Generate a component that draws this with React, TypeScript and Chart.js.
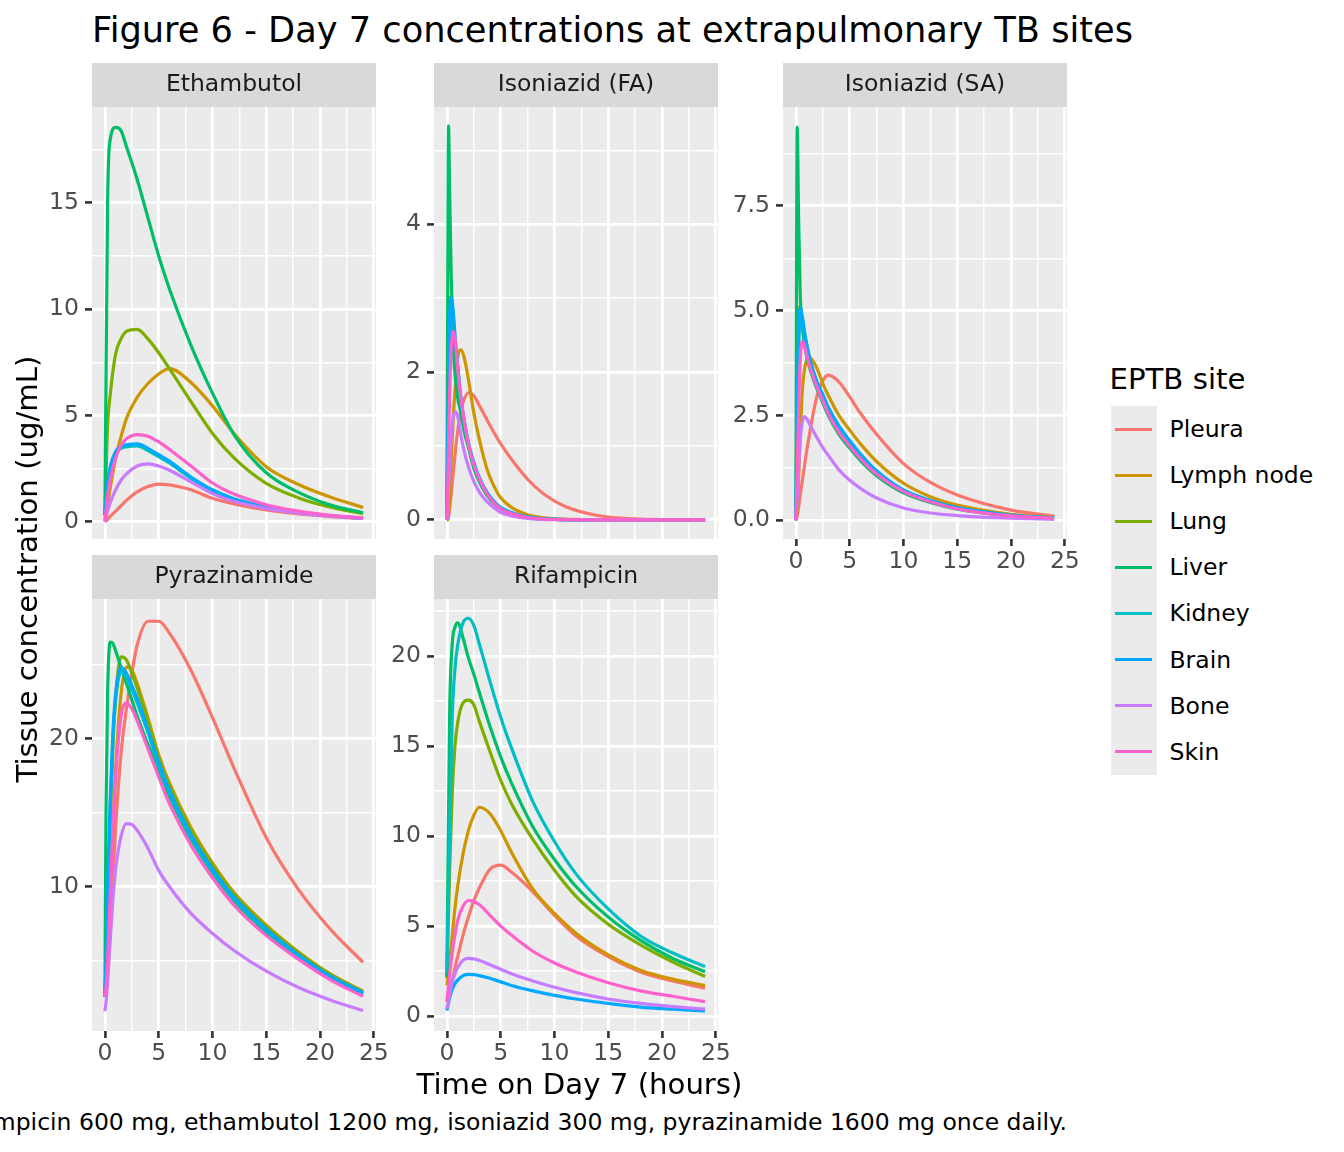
import { useEffect, useRef } from "react"
import { Chart, registerables } from "chart.js"

Chart.register(...registerables)

// sites in legend / drawing order
const sites = ["Pleura", "Lymph node", "Lung", "Liver", "Kidney", "Brain", "Bone", "Skin"]
const siteColors = ["#F8766D", "#CD9600", "#7CAE00", "#00BE67", "#00BFC4", "#00A9FF", "#C77CFF", "#FF61CC"]

const xMajor = [0, 5, 10, 15, 20, 25]
const xMinor = [2.5, 7.5, 12.5, 17.5, 22.5]

// Ethambutol (rows follow `sites`)
const ethTime = [0, 0.25, 0.5, 1, 1.5, 2, 3, 4, 5, 6, 8, 10, 12, 15, 18, 21, 24]
const ethambutol = [
  [0, 0.1, 0.25, 0.5, 0.75, 1.0, 1.4, 1.65, 1.77, 1.73, 1.5, 1.1, 0.84, 0.55, 0.36, 0.24, 0.15],
  [0.1, 0.8, 1.6, 3.0, 4.0, 4.85, 5.85, 6.5, 6.95, 7.2, 6.55, 5.45, 4.15, 2.59, 1.75, 1.15, 0.67],
  [0.3, 4.5, 6.0, 7.9, 8.6, 8.95, 9.05, 8.6, 7.95, 7.2, 5.65, 4.15, 3.0, 1.8, 1.12, 0.68, 0.38],
  [0.3, 15.0, 18.0, 18.55, 18.4, 17.65, 16.1, 14.3, 12.5, 10.95, 8.3, 6.05, 4.1, 2.3, 1.38, 0.78, 0.42],
  [0.3, 1.7, 2.5, 3.2, 3.45, 3.52, 3.56, 3.35, 3.06, 2.76, 2.04, 1.46, 1.05, 0.68, 0.44, 0.27, 0.16],
  [0.3, 1.8, 2.6, 3.3, 3.55, 3.62, 3.66, 3.45, 3.15, 2.85, 2.1, 1.5, 1.08, 0.7, 0.45, 0.28, 0.17],
  [0, 0.5, 0.9, 1.5, 1.95, 2.25, 2.62, 2.72, 2.62, 2.42, 1.87, 1.32, 0.96, 0.62, 0.4, 0.26, 0.16],
  [0, 1.2, 2.0, 3.0, 3.6, 3.9, 4.1, 4.02, 3.75, 3.4, 2.62, 1.82, 1.3, 0.8, 0.5, 0.3, 0.18],
]
const ethYMajor = [0, 5, 10, 15]
const ethYMinor = [2.5, 7.5, 12.5, 17.5]

// Isoniazid, fast acetylators
const faTime = [0, 0.1, 0.15, 0.25, 0.4, 0.6, 0.8, 1, 1.3, 1.6, 2, 2.5, 3, 3.7, 4.5, 5, 6, 7.5, 9, 11, 14, 18, 24]
const isoniazidFA = [
  [0, 0.02, 0.05, 0.15, 0.35, 0.65, 0.95, 1.2, 1.48, 1.63, 1.72, 1.68, 1.55, 1.36, 1.15, 1.03, 0.82, 0.55, 0.35, 0.18, 0.06, 0.01, 0],
  [0, 0, 0.05, 0.25, 0.8, 1.4, 1.85, 2.2, 2.3, 2.2, 1.9, 1.45, 1.1, 0.7, 0.42, 0.3, 0.17, 0.07, 0.028, 0.01, 0.002, 0, 0],
  [0, 1.8, 2.6, 3.0, 3.02, 2.7, 2.3, 2.0, 1.6, 1.3, 1.0, 0.74, 0.55, 0.36, 0.22, 0.16, 0.09, 0.035, 0.013, 0.004, 0, 0, 0],
  [0, 4.0, 5.33, 4.5, 3.3, 2.3, 1.9, 1.65, 1.45, 1.2, 0.98, 0.7, 0.52, 0.34, 0.2, 0.15, 0.08, 0.03, 0.012, 0.004, 0, 0, 0],
  [0, 1.2, 1.85, 2.6, 2.92, 2.72, 2.35, 2.05, 1.62, 1.32, 1.02, 0.76, 0.56, 0.37, 0.22, 0.16, 0.09, 0.035, 0.013, 0.004, 0, 0, 0],
  [0, 1.2, 1.9, 2.7, 3.0, 2.8, 2.4, 2.1, 1.65, 1.35, 1.05, 0.78, 0.58, 0.38, 0.23, 0.17, 0.1, 0.04, 0.015, 0.005, 0, 0, 0],
  [0, 0.2, 0.4, 0.75, 1.15, 1.4, 1.46, 1.4, 1.15, 0.93, 0.72, 0.52, 0.38, 0.25, 0.15, 0.1, 0.055, 0.02, 0.008, 0.002, 0, 0, 0],
  [0, 0.6, 1.0, 1.7, 2.3, 2.55, 2.4, 2.05, 1.65, 1.35, 1.03, 0.75, 0.56, 0.36, 0.21, 0.15, 0.085, 0.033, 0.012, 0.004, 0, 0, 0],
]
const faYMajor = [0, 2, 4]
const faYMinor = [1, 3, 5]

// Isoniazid, slow acetylators
const saTime = [0, 0.12, 0.25, 0.4, 0.6, 0.8, 1, 1.2, 1.5, 2, 2.5, 3, 4, 5, 6, 7.5, 10, 12.5, 15, 20, 24]
const isoniazidSA = [
  [0, 0.1, 0.3, 0.6, 0.95, 1.3, 1.65, 1.95, 2.4, 3.0, 3.33, 3.46, 3.3, 2.94, 2.55, 2.05, 1.35, 0.9, 0.6, 0.24, 0.1],
  [0, 0.3, 1.0, 2.0, 3.1, 3.6, 3.82, 3.89, 3.83, 3.6, 3.26, 2.98, 2.5, 2.15, 1.82, 1.4, 0.88, 0.56, 0.36, 0.14, 0.06],
  [0, 3.5, 5.0, 5.1, 4.75, 4.45, 4.2, 3.95, 3.65, 3.25, 2.95, 2.65, 2.2, 1.85, 1.55, 1.15, 0.7, 0.46, 0.29, 0.11, 0.05],
  [0, 9.38, 7.2, 5.4, 4.6, 4.2, 3.9, 3.7, 3.45, 3.1, 2.8, 2.5, 2.05, 1.72, 1.42, 1.06, 0.65, 0.42, 0.26, 0.1, 0.045],
  [0, 2.4, 4.1, 4.95, 4.75, 4.42, 4.15, 3.9, 3.6, 3.22, 2.95, 2.66, 2.22, 1.87, 1.56, 1.16, 0.71, 0.46, 0.29, 0.11, 0.05],
  [0, 2.6, 4.3, 5.08, 4.85, 4.5, 4.2, 3.95, 3.65, 3.28, 3.0, 2.7, 2.25, 1.9, 1.58, 1.18, 0.72, 0.47, 0.3, 0.12, 0.05],
  [0, 0.5, 1.2, 1.9, 2.35, 2.47, 2.42, 2.33, 2.18, 1.95, 1.73, 1.55, 1.2, 0.95, 0.76, 0.53, 0.29, 0.17, 0.11, 0.045, 0.02],
  [0, 1.2, 2.6, 3.8, 4.27, 4.15, 3.95, 3.75, 3.5, 3.15, 2.85, 2.55, 2.1, 1.77, 1.47, 1.1, 0.68, 0.44, 0.27, 0.1, 0.05],
]
const saYMajor = [0, 2.5, 5, 7.5]
const saYMinor = [1.25, 3.75, 6.25, 8.75]

// Pyrazinamide
const pzaTime = [0, 0.1, 0.25, 0.5, 0.75, 1, 1.5, 2, 2.5, 3, 4, 5, 6, 8, 10, 12, 15, 18, 21, 24]
const pyrazinamide = [
  [2.6, 3.2, 4.5, 7, 10.5, 14, 19, 22.0, 24.4, 26.3, 27.9, 27.9, 27.1, 24.6, 21.4, 18.0, 13.3, 9.8, 7.1, 4.9],
  [2.6, 3.2, 5, 9.5, 14, 18, 23, 24.8, 24.6, 23.7, 21.4, 18.9, 17.0, 14.0, 11.6, 9.6, 7.4, 5.6, 4.1, 2.95],
  [2.6, 4, 8, 14.5, 19.5, 22.8, 25.5, 25.3, 24.4, 23.4, 21.1, 18.7, 16.8, 13.8, 11.45, 9.5, 7.3, 5.55, 4.05, 2.92],
  [2.6, 15, 23, 26.5, 26.4, 25.9, 24.8, 23.7, 22.6, 21.5, 19.6, 17.9, 16.1, 13.2, 10.95, 9.05, 6.95, 5.25, 3.85, 2.75],
  [2.6, 4.5, 9, 15.5, 20, 22.6, 24.5, 24.1, 23.3, 22.4, 20.4, 18.2, 16.3, 13.3, 11.05, 9.15, 7.05, 5.35, 3.9, 2.8],
  [2.6, 5, 9.5, 16, 20.5, 23, 24.8, 24.4, 23.6, 22.7, 20.6, 18.4, 16.5, 13.5, 11.2, 9.3, 7.15, 5.4, 3.95, 2.85],
  [1.6, 2.2, 3.5, 6.5, 9.2, 11.2, 13.4, 14.25, 14.2, 13.8, 12.6, 11.1, 10.0, 8.2, 6.85, 5.7, 4.3, 3.2, 2.35, 1.65],
  [2.6, 3.2, 5, 9.5, 14, 17.5, 21.5, 22.4, 22.0, 21.2, 19.3, 17.4, 15.6, 12.8, 10.6, 8.75, 6.7, 5.1, 3.7, 2.6],
]
const pzaYMajor = [10, 20]
const pzaYMinor = [5, 15, 25]

// Rifampicin
const rifTime = [0, 0.25, 0.5, 0.75, 1, 1.5, 2, 2.5, 3, 4, 5, 6, 8, 10, 12, 15, 18, 21, 24]
const rifampicin = [
  [0.8, 1.4, 2.0, 2.7, 3.3, 4.5, 5.5, 6.4, 7.1, 8.15, 8.38, 8.0, 6.9, 5.6, 4.45, 3.3, 2.45, 1.95, 1.55],
  [1.7, 3.0, 4.5, 6.0, 7.2, 9.0, 10.3, 11.15, 11.6, 11.25, 10.3, 9.1, 7.05, 5.7, 4.6, 3.4, 2.55, 2.05, 1.7],
  [2.1, 8, 12.5, 15, 16.3, 17.4, 17.55, 17.3, 16.4, 14.7, 13.1, 11.8, 9.8, 8.1, 6.65, 5.1, 3.95, 3.0, 2.2],
  [2.2, 16.7, 20.7, 21.6, 21.85, 21.0, 19.9, 19.0, 18.0, 16.1, 14.4, 12.95, 10.5, 8.7, 7.2, 5.5, 4.2, 3.2, 2.47],
  [2.4, 10, 16.7, 19.3, 20.6, 21.85, 22.1, 21.7, 20.7, 18.6, 16.6, 14.9, 11.9, 9.7, 7.9, 5.95, 4.45, 3.5, 2.75],
  [0.3, 1.0, 1.5, 1.8, 2.0, 2.25, 2.32, 2.3, 2.25, 2.1, 1.9, 1.7, 1.4, 1.15, 0.95, 0.7, 0.5, 0.38, 0.28],
  [0.4, 1.2, 1.9, 2.35, 2.7, 3.1, 3.2, 3.18, 3.1, 2.85, 2.6, 2.35, 1.95, 1.6, 1.3, 0.95, 0.7, 0.52, 0.38],
  [0.8, 2.3, 3.5, 4.5, 5.3, 6.1, 6.42, 6.35, 6.2, 5.6, 5.0, 4.5, 3.6, 2.95, 2.45, 1.85, 1.4, 1.1, 0.8],
]
const rifYMajor = [0, 5, 10, 15, 20]
const rifYMinor = [2.5, 7.5, 12.5, 17.5, 22.5]

const FONT = "'DejaVu Sans', sans-serif"
const SMALL = 23.5
const PANEL_W = 284
const PANEL_H = 432
const STRIP_H = 44
const Y_AXIS_W = 70
const X_AXIS_H = 44
const PAD_R = 24
const PAD_B = 20

interface PanelProps {
  drug: string
  times: number[]
  rows: number[][]
  yMin: number
  yMax: number
  yMajor: number[]
  yMinor: number[]
  decimals: number
  showX: boolean
  left: number
  top: number
}

function FacetPanel({ drug, times, rows, yMin, yMax, yMajor, yMinor, decimals, showX, left, top }: PanelProps) {
  const chartRef = useRef<HTMLCanvasElement>(null)

  useEffect(() => {
    if (!chartRef.current) return
    const ctx = chartRef.current.getContext("2d")
    if (!ctx) return

    const xMajorSet = new Set(xMajor)
    const yMajorSet = new Set(yMajor)
    const xTicks = [...xMajor, ...xMinor].sort((a, b) => a - b)
    const yTicks = [...yMajor, ...yMinor].sort((a, b) => a - b)

    // grey panel, strip and strip label (ggplot look)
    const panelDecor = {
      id: "panelDecor",
      beforeDraw(chart: any) {
        const a = chart.chartArea
        const c = chart.ctx
        c.save()
        c.fillStyle = "#EBEBEB"
        c.fillRect(a.left, a.top, a.right - a.left, a.bottom - a.top)
        c.fillStyle = "#D9D9D9"
        c.fillRect(a.left, a.top - STRIP_H, a.right - a.left, STRIP_H)
        c.fillStyle = "#1A1A1A"
        c.font = `${SMALL}px ${FONT}`
        c.textAlign = "center"
        c.textBaseline = "middle"
        c.fillText(drug, (a.left + a.right) / 2, a.top - STRIP_H / 2)
        c.restore()
      },
    }

    const chart = new Chart(ctx, {
      type: "line",
      data: {
        datasets: rows.map((vals, i) => ({
          label: sites[i],
          data: times.map((t, j) => ({ x: t, y: vals[j] })),
          borderColor: siteColors[i],
          borderWidth: 3.2,
          pointRadius: 0,
          fill: false,
          cubicInterpolationMode: "monotone" as const,
          order: sites.length - 1 - i,
        })),
      },
      options: {
        animation: false,
        responsive: true,
        maintainAspectRatio: false,
        events: [],
        layout: { padding: { top: STRIP_H, right: PAD_R, left: 0, bottom: showX ? 0 : PAD_B } },
        plugins: { legend: { display: false }, tooltip: { enabled: false } },
        scales: {
          x: {
            type: "linear",
            bounds: "data",
            min: -1.2,
            max: 25.2,
            border: { display: false },
            afterBuildTicks: (axis: any) => {
              axis.ticks = xTicks.map((v) => ({ value: v }))
            },
            afterFit: (axis: any) => {
              axis.height = showX ? X_AXIS_H : 0
            },
            grid: {
              color: "#FFFFFF",
              lineWidth: (c: any) => (xMajorSet.has(c.tick?.value) ? 2.8 : 1.4),
              drawTicks: showX,
              tickLength: 7,
              tickWidth: 2.6,
              tickColor: (c: any) => (xMajorSet.has(c.tick?.value) ? "#333333" : "rgba(0,0,0,0)"),
            },
            ticks: {
              display: showX,
              autoSkip: false,
              maxRotation: 0,
              padding: 2,
              color: "#4D4D4D",
              font: { family: FONT, size: SMALL },
              callback: (v: any) => (xMajorSet.has(v) ? String(v) : ""),
            },
          },
          y: {
            type: "linear",
            bounds: "data",
            min: yMin,
            max: yMax,
            border: { display: false },
            afterBuildTicks: (axis: any) => {
              axis.ticks = yTicks.map((v) => ({ value: v }))
            },
            afterFit: (axis: any) => {
              axis.width = Y_AXIS_W
            },
            grid: {
              color: "#FFFFFF",
              lineWidth: (c: any) => (yMajorSet.has(c.tick?.value) ? 2.8 : 1.4),
              tickLength: 7,
              tickWidth: 2.6,
              tickColor: (c: any) => (yMajorSet.has(c.tick?.value) ? "#333333" : "rgba(0,0,0,0)"),
            },
            ticks: {
              autoSkip: false,
              padding: 6,
              color: "#4D4D4D",
              font: { family: FONT, size: SMALL },
              callback: (v: any) => (yMajorSet.has(v) ? Number(v).toFixed(decimals) : ""),
            },
          },
        },
      },
      plugins: [panelDecor],
    } as any)

    return () => {
      chart.destroy()
    }
  }, [drug, times, rows, yMin, yMax, yMajor, yMinor, decimals, showX])

  return (
    <div
      style={{
        position: "absolute",
        left: left - Y_AXIS_W,
        top,
        width: Y_AXIS_W + PANEL_W + PAD_R,
        height: STRIP_H + PANEL_H + (showX ? X_AXIS_H : PAD_B),
      }}
    >
      <canvas ref={chartRef} />
    </div>
  )
}

const text = (size: number, extra: React.CSSProperties): React.CSSProperties => ({
  position: "absolute",
  fontFamily: FONT,
  fontSize: size,
  lineHeight: "normal",
  whiteSpace: "nowrap",
  color: "#000000",
  ...extra,
})

export default function App() {
  const colLeft = [92, 434, 783]
  const rowTop = [63, 555]

  return (
    <div
      style={{
        position: "absolute",
        left: 0,
        top: 0,
        width: 1344,
        height: 1152,
        overflow: "hidden",
        background: "#FFFFFF",
      }}
    >
      <div style={text(35.2, { left: 92, top: 9 })}>Figure 6 - Day 7 concentrations at extrapulmonary TB sites</div>

      <FacetPanel drug="Ethambutol" times={ethTime} rows={ethambutol} yMin={-0.81} yMax={19.51}
        yMajor={ethYMajor} yMinor={ethYMinor} decimals={0} showX={false} left={colLeft[0]} top={rowTop[0]} />
      <FacetPanel drug="Isoniazid (FA)" times={faTime} rows={isoniazidFA} yMin={-0.257} yMax={5.585}
        yMajor={faYMajor} yMinor={faYMinor} decimals={0} showX={false} left={colLeft[1]} top={rowTop[0]} />
      <FacetPanel drug="Isoniazid (SA)" times={saTime} rows={isoniazidSA} yMin={-0.45} yMax={9.86}
        yMajor={saYMajor} yMinor={saYMinor} decimals={1} showX={true} left={colLeft[2]} top={rowTop[0]} />
      <FacetPanel drug="Pyrazinamide" times={pzaTime} rows={pyrazinamide} yMin={0.27} yMax={29.4}
        yMajor={pzaYMajor} yMinor={pzaYMinor} decimals={0} showX={true} left={colLeft[0]} top={rowTop[1]} />
      <FacetPanel drug="Rifampicin" times={rifTime} rows={rifampicin} yMin={-0.83} yMax={23.17}
        yMajor={rifYMajor} yMinor={rifYMinor} decimals={0} showX={true} left={colLeft[1]} top={rowTop[1]} />

      {/* y axis title */}
      <div
        style={text(29.2, {
          left: 27 - 300,
          top: 569 - 17,
          width: 600,
          height: 34,
          textAlign: "center",
          transform: "rotate(-90deg)",
        })}
      >
        Tissue concentration (ug/mL)
      </div>

      {/* x axis title */}
      <div style={text(29.2, { left: 579.5 - 300, top: 1067, width: 600, textAlign: "center" })}>
        Time on Day 7 (hours)
      </div>

      {/* legend */}
      <div style={text(29.2, { left: 1109.5, top: 361.5 })}>EPTB site</div>
      <div style={{ position: "absolute", left: 1111, top: 406, width: 46, height: 369, background: "#EBEBEB" }} />
      {sites.map((s, i) => (
        <div key={s}>
          <div
            style={{
              position: "absolute",
              left: 1115,
              top: 406 + 46.1 * i + 23 - 1.5,
              width: 37,
              height: 3,
              background: siteColors[i],
            }}
          />
          <div
            style={text(SMALL, {
              left: 1169.5,
              top: 406 + 46.1 * i,
              height: 46,
              lineHeight: "46px",
            })}
          >
            {s}
          </div>
        </div>
      ))}

      {/* caption, right aligned to the panel edge */}
      <div style={text(SMALL, { right: 1344 - 1067, top: 1107.5, textAlign: "right" })}>
        Rifampicin 600 mg, ethambutol 1200 mg, isoniazid 300 mg, pyrazinamide 1600 mg once daily.
      </div>
    </div>
  )
}
